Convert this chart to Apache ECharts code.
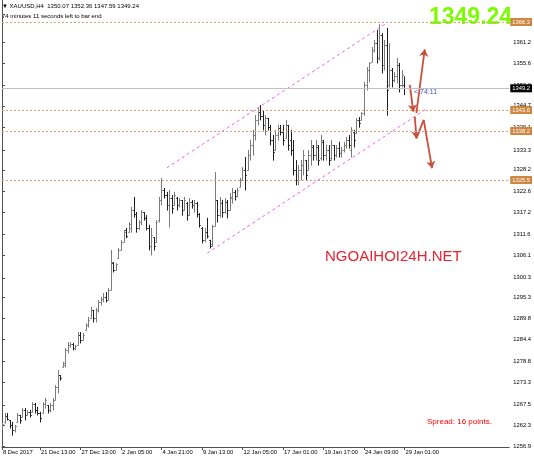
<!DOCTYPE html>
<html>
<head>
<meta charset="utf-8">
<script src="https://cdn.jsdelivr.net/npm/echarts@6/dist/echarts.min.js"></script>
<style>
html,body{margin:0;padding:0;background:#fff;}
#chart{width:534px;height:462px;}
</style>
</head>
<body>
<div id="chart"></div>
<script>
// ---- DATA ----
const opens = [1261.5,1263.1,1264.6,1263.6,1262.3,1261.0,1263.1,1264.9,1264.4,1266.2,1264.9,1265.7,1265.7,1267.7,1266.2,1265.4,1265.4,1267.7,1267.5,1266.2,
1267.5,1268.8,1272.1,1275.2,1277.3,1277.8,1281.7,1283.0,1283.2,1282.2,1283.0,1285.5,1284.2,1286.8,1288.1,1289.9,1292.0,1289.9,1292.0,1294.1,
1294.8,1295.4,1294.6,1297.2,1304.1,1302.3,1305.4,1307.5,1309.6,1312.7,1312.1,1313.2,1317.8,1316.8,1313.2,1314.7,1317.3,1315.8,1313.2,1308.5,
1310.8,1309.6,1315.2,1320.4,1323.0,1321.7,1319.1,1320.9,1319.1,1320.9,1319.1,1320.4,1317.8,1319.6,1316.5,1319.9,1319.1,1319.6,1316.8,1313.2,
1310.1,1312.1,1310.1,1309.0,1313.7,1320.4,1316.5,1319.6,1317.3,1319.9,1317.8,1320.9,1322.5,1321.4,1323.8,1325.6,1328.1,1328.1,1332.0,1334.6,
1337.2,1341.1,1343.1,1342.1,1339.8,1341.6,1339.2,1335.9,1333.3,1337.2,1339.0,1338.0,1336.4,1339.8,1335.9,1333.3,1328.1,1325.6,1328.1,1329.4,
1330.7,1328.1,1332.0,1334.1,1332.0,1334.1,1331.2,1335.4,1332.0,1333.3,1331.2,1334.6,1332.0,1333.8,1332.5,1333.3,1334.6,1335.9,1333.3,1338.0,
1337.7,1341.1,1341.1,1342.9,1350.1,1354.0,1356.0,1359.1,1360.9,1357.1,1363.0,1355.3,1360.4,1350.1,1354.0,1351.4,1352.4,1355.3,1350.1,1350.07];
const highs = [1262.8,1265.4,1265.4,1263.6,1263.1,1262.3,1265.4,1264.9,1266.7,1266.7,1266.2,1266.2,1268.2,1268.0,1267.0,1265.7,1268.2,1269.3,1267.5,1268.0,
1269.3,1272.6,1276.5,1275.2,1278.6,1282.2,1283.7,1283.7,1283.5,1283.0,1286.3,1286.3,1286.1,1288.6,1290.2,1292.8,1292.0,1292.5,1294.6,1295.4,
1296.4,1296.6,1297.7,1307.5,1304.4,1304.1,1308.0,1310.1,1312.7,1313.2,1314.7,1318.6,1321.2,1317.3,1315.2,1317.8,1317.3,1316.5,1314.0,1313.2,
1310.8,1315.2,1321.2,1326.1,1323.5,1322.5,1323.0,1321.7,1322.5,1321.2,1320.9,1320.4,1321.2,1319.9,1320.9,1320.4,1320.4,1319.9,1317.0,1313.4,
1313.2,1315.8,1310.1,1314.0,1327.6,1320.4,1321.2,1320.4,1320.9,1320.4,1322.2,1323.5,1323.0,1323.5,1326.1,1328.9,1331.5,1333.3,1335.9,1338.5,
1342.3,1344.1,1344.9,1343.6,1342.3,1341.6,1339.8,1337.2,1338.5,1339.8,1339.8,1339.8,1341.1,1339.8,1338.5,1335.9,1330.7,1329.4,1330.7,1333.3,
1330.7,1333.3,1335.9,1334.6,1335.9,1334.6,1337.2,1335.9,1334.6,1334.6,1335.9,1334.6,1334.6,1335.4,1334.1,1335.4,1336.7,1337.2,1339.2,1338.5,
1341.6,1341.8,1343.1,1350.9,1354.7,1356.0,1359.9,1361.7,1364.3,1365.8,1363.5,1361.7,1364.8,1360.9,1354.5,1353.4,1357.1,1355.8,1353.9,1352.36];
const lows = [1261.0,1262.8,1263.6,1261.5,1259.7,1260.5,1263.1,1262.8,1264.4,1263.6,1264.9,1264.4,1265.7,1265.4,1264.9,1263.1,1265.4,1266.7,1265.4,1265.7,
1266.2,1268.8,1270.6,1273.9,1277.3,1277.3,1280.9,1282.4,1281.7,1281.7,1283.0,1283.5,1284.2,1286.8,1287.6,1289.9,1288.9,1288.9,1291.5,1293.3,
1294.1,1294.1,1294.6,1297.2,1301.8,1302.3,1305.4,1307.5,1309.6,1310.6,1312.1,1312.1,1316.0,1312.1,1312.7,1314.0,1315.2,1312.7,1307.5,1306.2,
1307.5,1309.6,1314.7,1319.1,1320.9,1317.8,1313.4,1317.0,1319.1,1317.8,1318.6,1316.5,1317.8,1315.2,1316.5,1318.3,1317.3,1316.0,1313.4,1309.3,
1309.6,1310.6,1308.0,1308.5,1313.7,1314.7,1316.0,1316.0,1317.0,1315.8,1317.8,1319.6,1320.4,1321.2,1323.8,1325.6,1323.0,1328.1,1330.7,1332.0,
1335.9,1339.8,1341.1,1338.5,1337.2,1338.5,1334.6,1330.7,1333.3,1335.9,1337.2,1334.6,1336.4,1333.3,1332.0,1326.9,1324.3,1324.3,1325.6,1326.9,
1325.6,1328.1,1329.4,1330.7,1330.7,1329.4,1330.7,1330.7,1330.7,1329.4,1330.7,1330.7,1331.5,1331.5,1331.5,1332.8,1333.8,1333.8,1331.5,1334.1,
1337.7,1339.2,1341.1,1342.3,1348.8,1350.9,1356.0,1358.6,1355.8,1356.5,1353.2,1354.0,1342.3,1349.6,1349.6,1350.9,1350.6,1348.3,1349.6,1347.59];
const closes = [1262.6,1264.6,1263.9,1262.3,1261.0,1262.0,1264.9,1263.6,1266.2,1264.9,1265.7,1264.9,1267.7,1266.2,1265.4,1264.1,1267.7,1268.8,1266.2,1267.5,
1268.8,1272.1,1275.2,1274.4,1278.3,1281.7,1283.0,1283.2,1282.2,1282.7,1285.5,1284.2,1285.5,1288.1,1289.4,1292.0,1289.9,1292.0,1294.1,1294.8,
1295.4,1294.6,1297.2,1304.4,1302.3,1303.9,1307.5,1309.6,1312.1,1311.1,1314.2,1317.8,1316.8,1313.2,1314.7,1317.3,1315.8,1313.2,1308.5,1311.4,
1308.5,1314.7,1320.4,1323.0,1321.7,1319.1,1320.9,1318.3,1321.7,1319.1,1320.4,1317.8,1320.4,1316.5,1319.9,1319.1,1319.6,1316.8,1314.0,1310.1,
1312.1,1311.1,1308.5,1313.7,1320.4,1316.5,1319.6,1317.3,1319.9,1317.8,1321.2,1322.5,1321.4,1323.0,1325.6,1328.1,1326.9,1332.0,1334.6,1337.2,
1341.1,1343.1,1342.1,1339.8,1341.6,1339.2,1335.9,1332.8,1337.2,1339.0,1338.0,1335.9,1339.8,1334.6,1333.3,1328.1,1325.6,1328.1,1329.4,1332.0,
1326.9,1332.0,1334.6,1332.0,1334.6,1330.7,1335.9,1332.0,1333.3,1330.7,1334.6,1332.0,1333.8,1332.5,1333.3,1334.6,1335.9,1334.6,1338.5,1335.9,
1341.1,1340.3,1342.9,1350.1,1354.0,1355.8,1359.1,1360.9,1357.1,1363.0,1355.3,1360.4,1348.8,1354.0,1351.4,1352.4,1355.3,1350.1,1352.7,1349.24];

const timeTickIdx = [0,15,31,47,63,79,95,111,127,143,159];
const timeLabels = ['8 Dec 2017','21 Dec 13:00','27 Dec 13:00','2 Jan 05:00','4 Jan 21:00','9 Jan 13:00','12 Jan 05:00','17 Jan 01:00','19 Jan 17:00','24 Jan 09:00','29 Jan 01:00'];
const priceTicks = [1256.9,1262.3,1267.5,1273.3,1278.8,1284.4,1289.8,1295.3,1300.3,1306.1,1311.6,1317.2,1322.6,1328.2,1333.3,1339.1,1344.7,1350.0,1355.6,1361.2];

const levelValues = [1366.36,1343.64,1338.22,1325.57];
const levelLabels = ['1366.3','1343.6','1338.2','1325.5'];
const lastPrice = 1349.24;

// channel lines: [barIndex, price] endpoints
const channelUpper = [[65.1,1328.7],[151.3,1365.8]];
const channelLower = [[81.1,1306.7],[167.6,1343.9]];
// hand-drawn arrows: [barIndex, price]
const arrowSegments = [
  [[161.1,1350.1],[162.5,1343.2]],
  [[163.7,1342.8],[167.0,1359.3]],
  [[163.1,1341.9],[163.7,1336.3]],
  [[166.6,1341.1],[169.9,1328.6]]
];
const zigSegments = [
  [[163.7,1336.3],[166.6,1341.1]]
];

// ---- CHART ----
const FONT = 'Liberation Sans, Arial, sans-serif';
const chart = echarts.init(document.getElementById('chart'), null, {renderer:'canvas'});
const ohlc = opens.map((o,i)=>[i,o,highs[i],lows[i],closes[i]]);

const option = {
  animation:false,
  backgroundColor:'#ffffff',
  grid:{left:0,right:20,top:0,bottom:15,containLabel:false},
  xAxis:{
    type:'value',min:0,max:200.4,
    splitLine:{show:false},
    axisLine:{show:true,lineStyle:{color:'#505050',width:1}},
    axisTick:{show:true,customValues:timeTickIdx,length:3,lineStyle:{color:'#505050'}},
    axisLabel:{show:true,customValues:timeTickIdx,
      formatter:(v)=>{const k=timeTickIdx.indexOf(Math.round(v));return k>=0?timeLabels[k]:'';},
      align:'left',margin:2,fontSize:5.8,color:'#000',fontFamily:FONT,padding:[0,0,0,1]}
  },
  yAxis:{
    type:'value',position:'right',min:1256.62,max:1372.04,
    splitLine:{show:false},
    axisLine:{show:true,lineStyle:{color:'#505050',width:1}},
    axisTick:{show:true,customValues:priceTicks,length:3,lineStyle:{color:'#505050'}},
    axisLabel:{show:true,customValues:priceTicks,formatter:(v)=>v.toFixed(1),
      margin:4,fontSize:5.8,color:'#000',fontFamily:FONT}
  },
  series:[
    {
      type:'line',data:[],silent:true,
      markLine:{
        silent:true,symbol:['none','none'],animation:false,
        data:[
          ...levelValues.map((v,k)=>({yAxis:v,
            lineStyle:{color:'#E0A070',type:[2,2],width:1},
            label:{show:true,position:'end',distance:1,formatter:levelLabels[k],
              backgroundColor:'#CD853F',color:'#fff',fontSize:5.8,fontFamily:FONT,padding:[1,2,1,2]}})),
          {yAxis:lastPrice,lineStyle:{color:'#C0C0C0',type:'solid',width:1},
            label:{show:true,position:'end',distance:1,formatter:lastPrice.toFixed(1),
              backgroundColor:'#000',color:'#fff',fontSize:5.8,fontFamily:FONT,padding:[1,2,1,2]}}
        ]
      }
    },
    {
      type:'custom',clip:true,
      data:ohlc,
      encode:{x:0,y:[1,2,3,4]},
      renderItem:(params,api)=>{
        const i=api.value(0),o=api.value(1),h=api.value(2),l=api.value(3),c=api.value(4);
        const ph=api.coord([i,h]),pl=api.coord([i,l]),po=api.coord([i,o]),pc=api.coord([i,c]);
        const x=Math.round(ph[0])+0.5;
        const col=c>=o?'#7a7a7a':'#1e1e1e';
        const st={stroke:col,lineWidth:1};
        return {type:'group',children:[
          {type:'line',shape:{x1:x,y1:ph[1],x2:x,y2:pl[1]+0.5},style:st},
          {type:'line',shape:{x1:x-1.3,y1:Math.round(po[1])+0.5,x2:x,y2:Math.round(po[1])+0.5},style:st},
          {type:'line',shape:{x1:x,y1:Math.round(pc[1])+0.5,x2:x+1.3,y2:Math.round(pc[1])+0.5},style:st}
        ]};
      }
    },
    {
      type:'lines',coordinateSystem:'cartesian2d',silent:true,
      lineStyle:{color:'#F060F0',width:1,type:[3,3],opacity:1},
      symbol:['none','none'],
      data:[{coords:channelUpper},{coords:channelLower}]
    },
    {
      type:'lines',coordinateSystem:'cartesian2d',silent:true,
      lineStyle:{color:'#C8503A',width:1.8,opacity:1},
      symbol:['none','arrow'],symbolSize:7,
      data:arrowSegments.map(s=>({coords:s}))
    },
    {
      type:'lines',coordinateSystem:'cartesian2d',silent:true,
      lineStyle:{color:'#C8503A',width:1.8,opacity:1},
      symbol:['none','none'],
      data:zigSegments.map(s=>({coords:s}))
    }
  ],
  graphic:[
    {type:'text',left:2,top:3,style:{text:'\u25BC XAUUSD,H4  1350.07 1352.36 1347.59 1349.24',fontSize:6,fill:'#000',fontFamily:FONT}},
    {type:'text',left:2,top:13,style:{text:'74 minutes 11 seconds left to bar end',fontSize:6,fill:'#000',fontFamily:FONT}},
    {type:'text',left:429,top:6,style:{text:'1349.24',fontSize:23,fontWeight:'bold',fill:'#7CFC00',fontFamily:FONT}},
    {type:'text',left:325,top:249,style:{text:'NGOAIHOI24H.NET',fontSize:15,fill:'#E8232E',fontFamily:FONT}},
    {type:'text',left:427,top:418,style:{text:'Spread: 16 points.',fontSize:8,fill:'#FF0000',fontFamily:FONT}},
    {type:'text',left:414,top:89,style:{text:'< 74:11',fontSize:7,fill:'#4646E8',fontFamily:FONT}}
  ]
};
chart.setOption(option);
</script>
</body>
</html>
